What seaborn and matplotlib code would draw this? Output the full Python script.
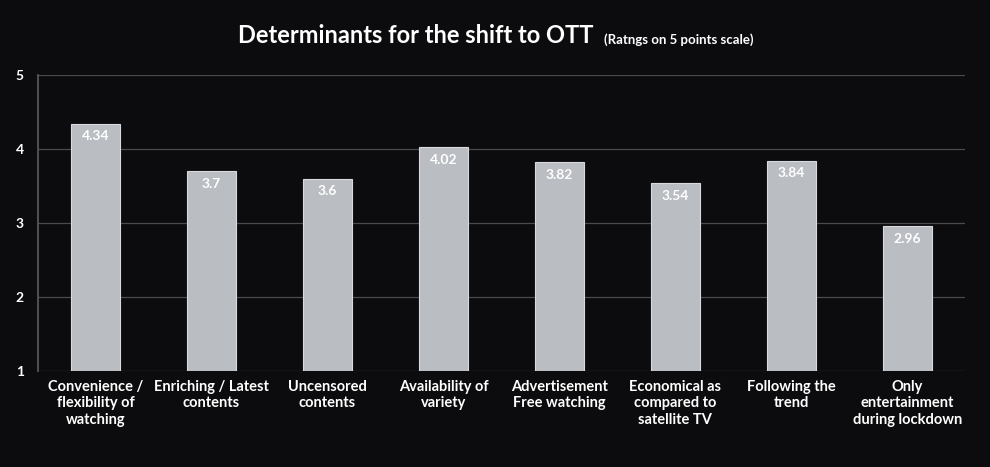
import matplotlib
matplotlib.use("Agg")
import matplotlib.pyplot as plt
import seaborn as sns
import pandas as pd

categories = [
    "Convenience /\nflexibility of\nwatching",
    "Enriching / Latest\ncontents",
    "Uncensored\ncontents",
    "Availability of\nvariety",
    "Advertisement\nFree watching",
    "Economical as\ncompared to\nsatellite TV",
    "Following the\ntrend",
    "Only\nentertainment\nduring lockdown",
]
ratings = [4.34, 3.7, 3.6, 4.02, 3.82, 3.54, 3.84, 2.96]
value_labels = ["4.34", "3.7", "3.6", "4.02", "3.82", "3.54", "3.84", "2.96"]
y_ticks = [1, 2, 3, 4, 5]

df = pd.DataFrame({"category": categories, "rating": ratings})

sns.set_theme(style="dark")
plt.rcParams["font.family"] = ["Lato", "DejaVu Sans"]

bg = "#0c0c0e"
fig = plt.figure(figsize=(9.9, 4.67), dpi=100, facecolor=bg)
ax = fig.add_axes([0.038, 0.205, 0.937, 0.635])
ax.set_facecolor(bg)

sns.barplot(data=df, x="category", y="rating", color="#b9bcc3",
            width=0.42, ax=ax, edgecolor="#d8dadf", linewidth=0.8)

ax.set_ylim(1, 5)
ax.set_yticks(y_ticks)
ax.set_yticklabels([str(t) for t in y_ticks], color="white",
                   fontsize=10, fontweight="bold")
ax.yaxis.grid(True, color="#4a4a4e", linewidth=0.9)
ax.xaxis.grid(False)
ax.set_axisbelow(True)
ax.set_xlabel("")
ax.set_ylabel("")
for s in ["top", "right", "bottom"]:
    ax.spines[s].set_visible(False)
ax.spines["left"].set_color("#5a5a5e")
ax.tick_params(axis="x", colors="white", length=0, pad=6)
ax.tick_params(axis="y", length=0, pad=10)
for lbl in ax.get_xticklabels():
    lbl.set_fontsize(10.5)
    lbl.set_fontweight("bold")
    lbl.set_color("white")
    lbl.set_linespacing(1.25)

for patch, txt in zip(ax.patches, value_labels):
    x = patch.get_x() + patch.get_width() / 2
    ax.text(x, patch.get_y() + patch.get_height() - 0.17, txt, ha="center", va="center",
            color="white", fontsize=10, fontweight="bold")

title = fig.text(0.24, 0.925, "Determinants for the shift to OTT", color="white",
                 fontsize=17, fontweight="bold", ha="left", va="center")
ax.annotate("(Ratngs on 5 points scale)", xy=(1, 0.5), xycoords=title,
            xytext=(8, -3), textcoords="offset points", color="white",
            fontsize=9.5, fontweight="bold", ha="left", va="center",
            annotation_clip=False)

fig.savefig("out.png", dpi=100, facecolor=bg)
